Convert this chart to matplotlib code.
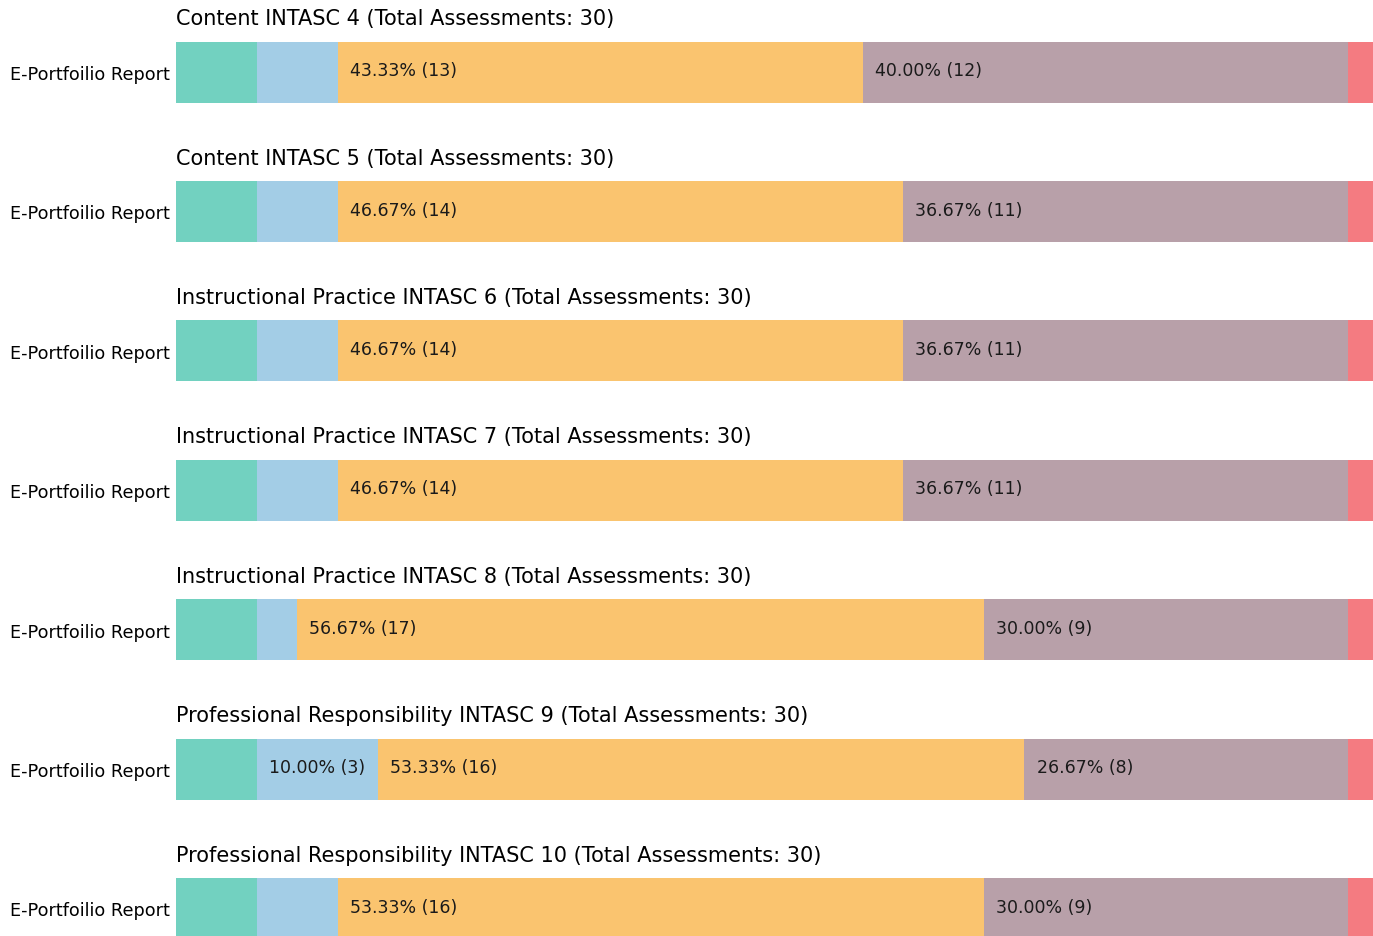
import matplotlib
matplotlib.use("Agg")
import matplotlib.pyplot as plt

# data
titles = [
    "Content INTASC 4",
    "Content INTASC 5",
    "Instructional Practice INTASC 6",
    "Instructional Practice INTASC 7",
    "Instructional Practice INTASC 8",
    "Professional Responsibility INTASC 9",
    "Professional Responsibility INTASC 10",
]
row_label = "E-Portfoilio Report"
total = 30
# counts per rating level, left to right
level1 = [2, 2, 2, 2, 2, 2, 2]
level2 = [2, 2, 2, 2, 1, 3, 2]
level3 = [13, 14, 14, 14, 17, 16, 16]
level4 = [12, 11, 11, 11, 9, 8, 9]
level5 = [1, 1, 1, 1, 1, 1, 1]
colors = ["#72d1c0", "#a3cde6", "#fac46f", "#b8a0a9", "#f47b81"]

W, H = 1373, 937
fig = plt.figure(figsize=(W / 100, H / 100), dpi=100)

left_px = 176
axw_px = 30 * 40.4
bar_h_px = 61
top0 = 42.5
step = 139.4

for i, t in enumerate(titles):
    top = top0 + i * step
    ax = fig.add_axes([left_px / W, 1 - (top + bar_h_px) / H, axw_px / W, bar_h_px / H])
    counts = [level1[i], level2[i], level3[i], level4[i], level5[i]]
    start = 0
    for c, col in zip(counts, colors):
        pct = c / total * 100
        ax.barh([0], [pct], left=start, height=1.0, color=col, edgecolor="none")
        if pct >= 10:
            ax.text(start + 1.0, 0.03, f"{pct:.2f}% ({c})", va="center", ha="left",
                    fontsize=12.5, color="#1a1a1a")
        start += pct
    ax.set_xlim(0, 100)
    ax.set_ylim(-0.5, 0.5)
    ax.set_yticks([0])
    ax.set_yticklabels([row_label], fontsize=12.7)
    ax.tick_params(axis="y", length=0, pad=4.5)
    ax.set_xticks([])
    for s in ax.spines.values():
        s.set_visible(False)
    ax.set_title(f"{t} (Total Assessments: {total})", loc="left", fontsize=15, pad=12.5)

fig.savefig("out.png", dpi=100)
